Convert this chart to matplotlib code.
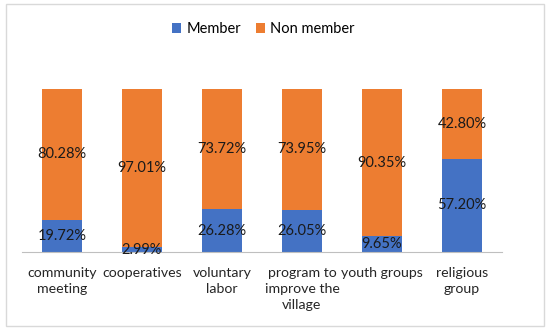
import matplotlib.pyplot as plt
from matplotlib.patches import Rectangle

categories = ['community\nmeeting', 'cooperatives', 'voluntary\nlabor',
              'program to\nimprove the\nvillage', 'youth groups', 'religious\ngroup']
member = [19.72, 2.99, 26.28, 26.05, 9.65, 57.20]
non_member = [80.28, 97.01, 73.72, 73.95, 90.35, 42.80]

plt.rcParams['font.family'] = ['Lato', 'DejaVu Sans']

fig = plt.figure(figsize=(5.5, 3.32), dpi=100)
ax = fig.add_axes([0.04, 0.241, 0.8727, 0.491])

x = range(len(categories))
b1 = ax.bar(x, member, width=0.51, color='#4472C4', label='Member')
b2 = ax.bar(x, non_member, width=0.51, bottom=member, color='#ED7D31', label='Non member')

for i in x:
    ax.text(i, member[i] / 2, f"{member[i]:.2f}%", ha='center', va='center',
            fontsize=10.5, color='#1a1a1a')
    ax.text(i, member[i] + non_member[i] / 2, f"{non_member[i]:.2f}%", ha='center',
            va='center', fontsize=10.5, color='#1a1a1a')

ax.set_xlim(-0.5, 5.5)
ax.set_ylim(0, 100)
ax.set_xticks(list(x))
ax.set_xticklabels(categories, fontsize=10.2, color='#262626', linespacing=1.4, va='top')
ax.tick_params(axis='x', length=0, pad=11)
ax.set_yticks([])
for s in ['top', 'right', 'left']:
    ax.spines[s].set_visible(False)
ax.spines['bottom'].set_color('#BFBFBF')

fig.legend(handles=[b1, b2], loc='center', bbox_to_anchor=(0.479, 0.913), ncol=2,
           frameon=False, fontsize=10.5, handlelength=0.65, handleheight=0.65,
           columnspacing=1.0, handletextpad=0.35)

fig.patches.append(Rectangle((6 / 550, 6 / 332), 538 / 550, 322 / 332,
                             transform=fig.transFigure, fill=False,
                             edgecolor='#D9D9D9', linewidth=1))

fig.savefig('out.png', dpi=100)
